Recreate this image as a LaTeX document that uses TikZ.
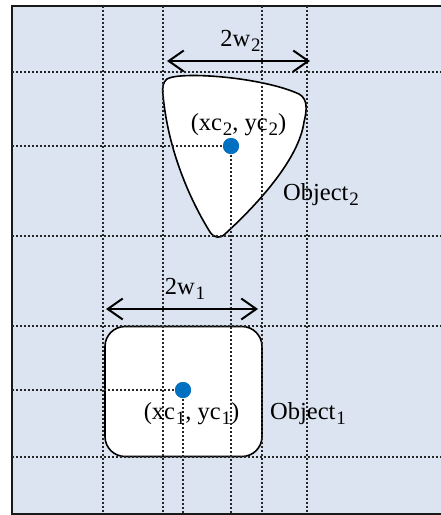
\documentclass[tikz,border=0pt]{standalone}
\usepackage{fontspec}
\setmainfont{Liberation Serif}
\usetikzlibrary{arrows.meta}
\definecolor{bgblue}{RGB}{219,228,240}
\definecolor{dotblue}{RGB}{0,112,192}
\newcommand{\lsub}[1]{\hspace{0.8pt}\raisebox{-0.22em}{\fontsize{19}{19}\selectfont #1}}
\begin{document}
\begin{tikzpicture}[x=1pt,y=-1pt,
  grid/.style={line width=1.4pt, dash pattern=on 1.6pt off 2.4pt, black!85},
  obj/.style={draw=black, line width=1.6pt, fill=white},
  cdot/.style={circle, fill=dotblue, minimum size=16pt, inner sep=0pt},
  dim/.style={line width=2pt, {Straight Barb[length=15pt,width=21pt]}-{Straight Barb[length=15pt,width=21pt]}},
  lbl/.style={font=\fontsize{24.5}{26}\selectfont, inner sep=0pt, anchor=base}]
\useasboundingbox (0,0) rectangle (441,515);
\fill[bgblue] (12,6) rectangle (450,514);
\draw[line width=2pt, black!90] (450,6) -- (12,6) -- (12,514) -- (450,514);
% objects
\node[obj, rounded corners=20pt, minimum width=157pt, minimum height=130pt, inner sep=0pt] (obj1) at (183.5,391.5) {};
\draw[obj] (167,79) .. controls (180,71) and (262,77) .. (299,94)
  .. controls (308,99) and (307,110) .. (304,122)
  .. controls (299,158) and (260,202) .. (225,234)
  .. controls (220,239) and (214,238) .. (210,232)
  .. controls (190,200) and (168,150) .. (163,95)
  .. controls (162,87) and (163,82) .. (167,79) -- cycle;
% centre dots
\node[cdot] (d2) at (231,146) {};
\node[cdot] (d1) at (183,390) {};
% grid
\foreach \x in {103,163,262,307} \draw[grid] (\x,6) -- (\x,514);
\foreach \y in {72,236,326,457} \draw[grid] (12,\y) -- (441,\y);
\coordinate (l2) at (12,146);
\coordinate (b2) at (231,514);
\coordinate (l1) at (12,390);
\coordinate (b1) at (183,514);
\draw[grid] (l2) -- (d2.center) -- (b2);
\draw[grid] (l1) -- (d1.center) -- (b1);
\node[cdot] at (d2) {};
\node[cdot] at (d1) {};
% dimension arrows
\coordinate (a2l) at (167,61);
\coordinate (a2r) at (310,61);
\coordinate (a1l) at (106,309);
\coordinate (a1r) at (258,309);
\draw[dim] (a2l) -- (a2r);
\draw[dim] (a1l) -- (a1r);
% labels
\node[lbl] (w2) at (240.5,46) {2w\lsub{2}};
\node[lbl] (w1) at (185,294) {2w\lsub{1}};
\node[lbl] (c2) at (238.5,130) {(xc\lsub{2}, yc\lsub{2})};
\node[lbl, anchor=base west] (o2) at (283,200) {Object\lsub{2}};
\node[lbl] (c1) at (191.5,419) {(xc\lsub{1}, yc\lsub{1})};
\node[lbl, anchor=base west] (o1) at (270,419) {Object\lsub{1}};
\end{tikzpicture}
\end{document}
